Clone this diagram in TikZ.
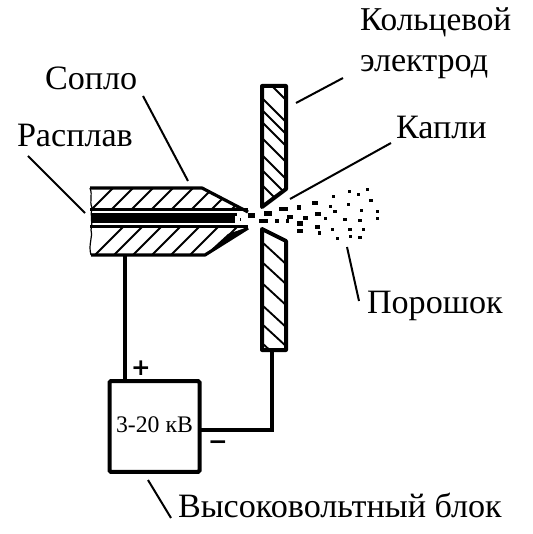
\documentclass[tikz,border=0pt]{standalone}
\usepackage{fontspec}
\setmainfont{Liberation Serif}
\newfontfamily\signfont{DejaVu Sans}
\usetikzlibrary{calc}
\tikzset{
  every node/.style={inner sep=0pt,outer sep=0pt},
  thick line/.style={line width=3pt,line join=round,line cap=round},
  wire/.style={line width=3pt},
  hatch/.style={line width=1.4pt},
  leader/.style={line width=1.5pt},
  label/.style={anchor=base west,font=\fontsize{25.6}{26}\selectfont},
  sign/.style={font=\signfont\bfseries\fontsize{17.5}{17.5}\selectfont},
  drop/.style={fill=black,draw=none}
}
\begin{document}
\begin{tikzpicture}[x=0.75pt,y=-0.75pt]
\useasboundingbox (0,0) rectangle (532,534);
% nozzle hatching
\begin{scope}
\clip (91,188) -- (202,188) -- (247,211) -- (91,211) -- cycle;
\foreach \i in {0,...,8} \draw[hatch] ({92+\i*20},209) -- ({92+\i*20+24},185);
\end{scope}
\begin{scope}
\clip (91,227) -- (247,227) -- (205,255) -- (91,255) -- cycle;
\foreach \i in {0,...,8} \draw[hatch] ({95+\i*19},255) -- ({95+\i*19+29},226);
\end{scope}
% nozzle
\draw[line width=2.4pt,line join=round] (90,188) -- (202,188) -- (248,212);
\draw[line width=2.6pt] (90,209.5) -- (248,209.5);
\draw[line width=2.6pt] (90,226.5) -- (248,226.5);
\draw[line width=2.4pt,line join=round] (91,255) -- (205,255) -- (248,228);
\fill[black] (92,213) rectangle (235,223);
\fill[black] (205,255) -- (248,227) -- (228,234) -- cycle;
\draw[line width=0.9pt] (90,188) .. controls (93,196) and (89,200) .. (92,208) .. controls (90,216) and (93,222) .. (91,230) .. controls (93,238) and (88,244) .. (91,255);
% electrodes
\begin{scope}
\clip (262,86) -- (287,86) -- (287,189) -- (262,207) -- cycle;
\foreach \y in {76,98,110,122,138,155,170,185} \draw[hatch] (262,\y) -- (287,{\y+25});
\end{scope}
\draw[thick line] (262,86) -- (286,86) -- (286,189) -- (262,207) -- cycle;
\begin{scope}
\clip (262,229) -- (287,241) -- (287,350) -- (262,350) -- cycle;
\foreach \y in {242,262,283,305,324,343} \draw[hatch] (262,\y) -- (287,{\y+23});
\end{scope}
\draw[thick line] (262,229) -- (286,241) -- (286,350) -- (262,350) -- cycle;
\coordinate (el) at (272,350);
\coordinate (nz) at (125,255);
% power block
\node[draw,line width=3pt,rounded corners=1pt,minimum width=67.5pt,minimum height=68pt,font=\fontsize{17.8}{20}\selectfont] (blk) at (154.5,426.5) {\raisebox{2.4pt}{3-20 кВ}};
\draw[wire] (nz) -- (nz |- blk.north);
\draw[wire] (el) |- ($(blk.east)+(0,3)$);
% signs
\node[sign] (plus) at (141,368) {+};
\node[sign] (minus) at (218,445) {−};
% droplets
\foreach \x/\y/\w/\h in {65/138/7/5,113/130/8/5,100/152/9/4,160/118/9/4,207/112/4/5,255/100/6/4,141/154/4/4,172/154/3/4,180/140/6/4,210/162/6/5,210/183/6/4,227/145/5/4,263/133/6/4,262/170/5/4,268/188/3/4,286/145/3.5/3.5,301/110/3.5/3.5,310/79/3.5/3.5,315/124/4/3.5,355/103/3.5/3.5,358/64/3.5/3.5,385/73/3.5/3.5,412/58/3.5/3.5,423/91/4/3.5,394/121/3.5/3.5,442/124/3.5/3.5,442/145/3.5/3.5,390/151/4/3.5,345/148/4/3.5,400/178/3.5/3.5,360/178/4/3.5,307/178/3.5/3.5,322/205/3.5/3.5,361/199/3.5/3.5,390/202/4/3.5,15/134/4/3,32/150/1/3}
  \fill[drop] ({230+\x/3-\w/2},{170+\y/3-\h/2}) rectangle ++(\w,\h);
% labels
\node[label,font=\fontsize{25}{26}\selectfont] (kol) at (360,31) {Кольцевой};
\node[label] (ele) at (360,72) {электрод};
\node[label] (kap) at (396,139) {Капли};
\node[label] (sop) at (45,90) {Сопло};
\node[label] (ras) at (17,147) {Расплав};
\node[label] (por) at (367,313) {Порошок};
\node[label] (vys) at (178,517) {Высоковольтный блок};
% leaders
\coordinate (a1) at (143,96); \coordinate (a2) at (188,181);
\coordinate (b1) at (28,156); \coordinate (b2) at (85,213);
\coordinate (c1) at (343,78); \coordinate (c2) at (296,103);
\coordinate (d1) at (391,143); \coordinate (d2) at (290,199);
\coordinate (e1) at (347,247); \coordinate (e2) at (359,301);
\coordinate (f1) at (148,480); \coordinate (f2) at (171,518);
\draw[leader] (a1) -- (a2);
\draw[leader] (b1) -- (b2);
\draw[leader] (c1) -- (c2);
\draw[leader] (d1) -- (d2);
\draw[leader] (e1) -- (e2);
\draw[leader] (f1) -- (f2);
\end{tikzpicture}
\end{document}
